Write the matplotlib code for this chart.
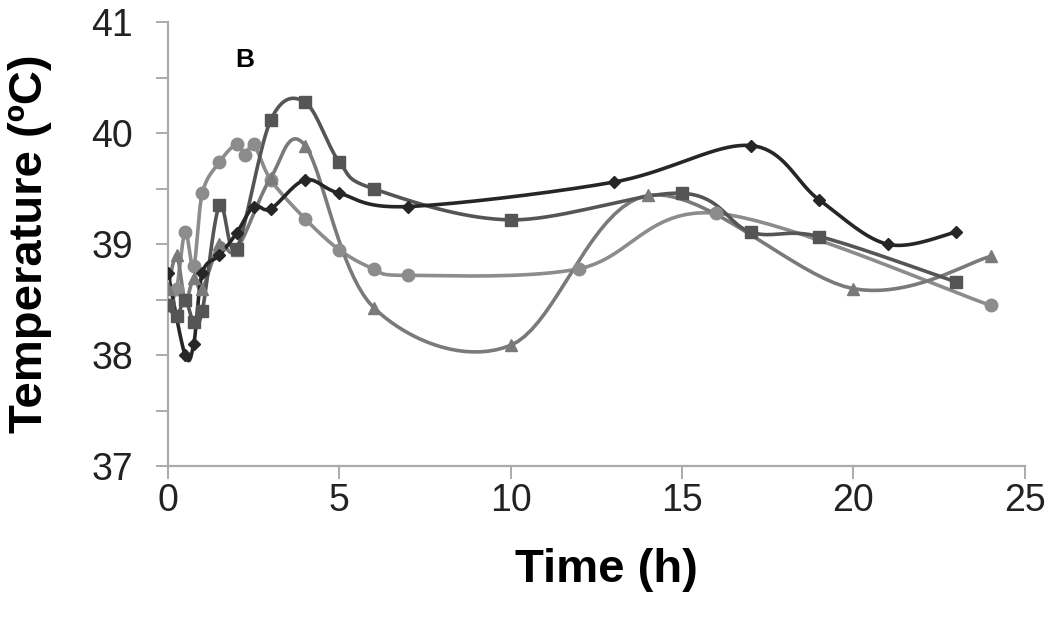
import numpy as np
import matplotlib.pyplot as plt
from matplotlib.ticker import MultipleLocator

plt.rcParams['font.family'] = ['Liberation Sans', 'DejaVu Sans']

# diamonds (darkest series)
t_dia = [0, 0.5, 0.75, 1, 1.5, 2, 2.5, 3, 4, 5, 7, 13, 17, 19, 21, 23]
temp_dia = [38.74, 38.0, 38.1, 38.74, 38.9, 39.1, 39.34, 39.32, 39.58, 39.46,
            39.34, 39.56, 39.89, 39.4, 39.0, 39.11]

# squares
t_sq = [0, 0.25, 0.5, 0.75, 1, 1.5, 2, 3, 4, 5, 6, 10, 15, 17, 19, 23]
temp_sq = [38.45, 38.35, 38.5, 38.3, 38.4, 39.35, 38.96, 40.12, 40.28, 39.74,
           39.5, 39.22, 39.46, 39.11, 39.07, 38.66]

# triangles
t_tri = [0, 0.25, 0.5, 0.75, 1, 1.5, 2, 3, 4, 6, 10, 14, 20, 24]
temp_tri = [38.6, 38.9, 38.5, 38.7, 38.6, 39.0, 38.95, 39.6, 39.89, 38.43,
            38.09, 39.44, 38.6, 38.89]

# circles (lightest series)
t_cir = [0, 0.25, 0.5, 0.75, 1, 1.5, 2, 2.25, 2.5, 3, 4, 5, 6, 7, 12, 16, 24]
temp_cir = [38.45, 38.6, 39.11, 38.8, 39.46, 39.74, 39.9, 39.8, 39.9, 39.58,
            39.23, 38.95, 38.78, 38.72, 38.78, 39.28, 38.45]


def smooth(x, y, n=20):
    # catmull-rom like the spreadsheet "smoothed line"
    x = np.asarray(x, float)
    y = np.asarray(y, float)
    px = np.concatenate([[x[0]], x, [x[-1]]])
    py = np.concatenate([[y[0]], y, [y[-1]]])
    xs, ys = [], []
    s = np.linspace(0, 1, n)
    for i in range(1, len(px) - 2):
        p0, p1, p2, p3 = px[i - 1], px[i], px[i + 1], px[i + 2]
        q0, q1, q2, q3 = py[i - 1], py[i], py[i + 1], py[i + 2]
        c1x, c1y = p1 + (p2 - p0) / 6, q1 + (q2 - q0) / 6
        c2x, c2y = p2 - (p3 - p1) / 6, q2 - (q3 - q1) / 6
        bx = (1 - s)**3 * p1 + 3 * (1 - s)**2 * s * c1x + 3 * (1 - s) * s**2 * c2x + s**3 * p2
        by = (1 - s)**3 * q1 + 3 * (1 - s)**2 * s * c1y + 3 * (1 - s) * s**2 * c2y + s**3 * q2
        xs.extend(bx)
        ys.extend(by)
    return xs, ys


fig = plt.figure(figsize=(10.5, 6.2), dpi=100)
ax = fig.add_axes([0.16, 0.248, 0.816, 0.716])

series = [
    (t_cir, temp_cir, 'o', '#8c8c8c', 9),
    (t_tri, temp_tri, '^', '#7a7a7a', 9),
    (t_sq, temp_sq, 's', '#555555', 8),
    (t_dia, temp_dia, 'D', '#262626', 6.5),
]
for t, v, m, c, ms in series:
    sx, sy = smooth(t, v)
    ax.plot(sx, sy, color=c, lw=2.6, zorder=2)
    ax.plot(t, v, ls='none', marker=m, color=c, ms=ms, zorder=3)

ax.set_xlim(0, 25)
ax.set_ylim(37, 41)
ax.set_xticks([0, 5, 10, 15, 20, 25])
ax.set_yticks([37, 38, 39, 40, 41])
ax.yaxis.set_minor_locator(MultipleLocator(0.5))
for side in ['top', 'right']:
    ax.spines[side].set_visible(False)
for side in ['left', 'bottom']:
    ax.spines[side].set_color('#aaaaaa')
    ax.spines[side].set_linewidth(1.6)
ax.tick_params(axis='both', which='both', colors='#aaaaaa', labelcolor='#222222',
               length=9, width=1.4, labelsize=27)
ax.tick_params(axis='x', pad=3)
ax.tick_params(axis='y', pad=16)

ax.set_xlabel('Time (h)', fontsize=34, fontweight='bold')
ax.set_ylabel('Temperature (ºC)', fontsize=34, fontweight='bold')
ax.xaxis.set_label_coords(0.512, -0.234)
ax.xaxis.label.set_va('center')
ax.yaxis.set_label_coords(-0.161, 0.502)
ax.yaxis.label.set_va('center')
ax.text(2.25, 40.66, 'B', fontsize=19, fontweight='bold', ha='center', va='center')

fig.savefig('out.png', dpi=100)
